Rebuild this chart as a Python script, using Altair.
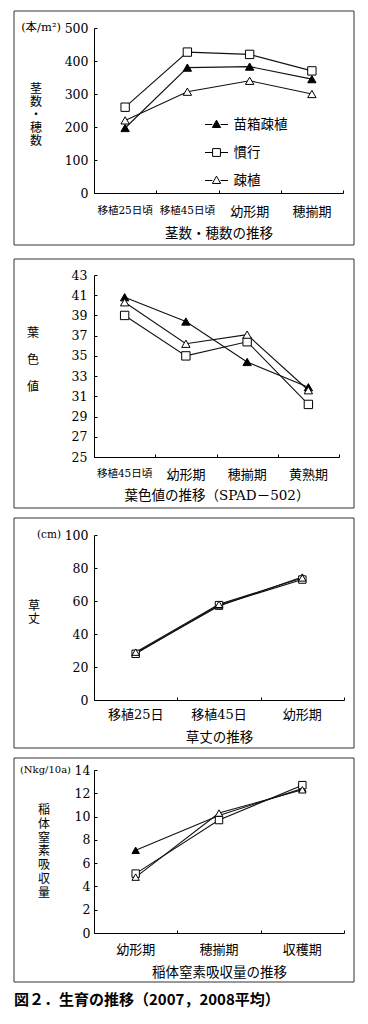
import altair as alt
import pandas as pd

# ---------------- data ----------------
series = ["苗箱疎植", "慣行", "疎植"]
shapes = ["triangle-up", "square", "triangle-up"]
fills = ["black", "white", "white"]
strokes = ["black", "black", "black"]
legend_paths = [
    "M-1,0L-0.36,0M0.36,0L1,0M0,-0.38L0.36,0.26L-0.36,0.26Z",
    "M-1,0L-0.34,0M0.34,0L1,0M-0.34,-0.34L0.34,-0.34L0.34,0.34L-0.34,0.34Z",
    "M-1,0L-0.36,0M0.36,0L1,0M0,-0.38L0.36,0.26L-0.36,0.26Z",
]

# Panel 1: 茎数・穂数
p1_categories = ["移植25日頃", "移植45日頃", "幼形期", "穂揃期"]
p1_naebako = [197, 380, 383, 345]
p1_kanko = [260, 427, 420, 370]
p1_soshoku = [220, 307, 340, 300]
p1_yticks = [0, 100, 200, 300, 400, 500]

# Panel 2: 葉色値
p2_categories = ["移植45日頃", "幼形期", "穂揃期", "黄熟期"]
p2_naebako = [40.8, 38.4, 34.4, 31.9]
p2_kanko = [39.0, 35.0, 36.4, 30.2]
p2_soshoku = [40.3, 36.2, 37.1, 31.6]
p2_yticks = [25, 27, 29, 31, 33, 35, 37, 39, 41, 43]

# Panel 3: 草丈
p3_categories = ["移植25日", "移植45日", "幼形期"]
p3_naebako = [28.5, 57.0, 74.5]
p3_kanko = [28.0, 57.5, 73.0]
p3_soshoku = [29.0, 58.0, 74.0]
p3_yticks = [0, 20, 40, 60, 80, 100]

# Panel 4: 稲体窒素吸収量
p4_categories = ["幼形期", "穂揃期", "収穫期"]
p4_naebako = [7.1, 10.1, 12.4]
p4_kanko = [5.1, 9.7, 12.7]
p4_soshoku = [4.8, 10.3, 12.3]
p4_yticks = [0, 2, 4, 6, 8, 10, 12, 14]

FONT_NUM = "DejaVu Serif, Noto Sans CJK JP"
FONT_JP = "Noto Sans CJK JP"

one = pd.DataFrame({"k": [0]})


def long_df(cats, a, b, c):
    rows = []
    for s, vals in zip(series, [a, b, c]):
        for i, (cat, v) in enumerate(zip(cats, vals)):
            rows.append({"cat": cat, "series": s, "value": v, "idx": i})
    return pd.DataFrame(rows)


def text_layer(text, x, y, size, font, align="left", baseline="middle",
               weight="normal", line_height=None):
    kw = dict(text=text, align=align, baseline=baseline, fontSize=size,
              font=font, fontWeight=weight, color="black")
    if line_height:
        kw["lineBreak"] = "\n"
        kw["lineHeight"] = line_height
    return alt.Chart(one).mark_text(**kw).encode(x=alt.value(x), y=alt.value(y))


FX1, FX2 = -80, 260


def panel(cats, a, b, c, W, H, ydomain, yticks, fy1, fy2, cell_bottom,
          ylab_pad, xlab_pad, xtitle, xtitle_y, ytitle, ytitle_x, ytitle_y,
          ytitle_lh, unit=None, unit_x=0, unit_size=11, msize=70,
          legend=False, caption=None):
    df = long_df(cats, a, b, c)
    xscale = alt.Scale(type="band", domain=cats, paddingInner=0, paddingOuter=0)
    yscale = alt.Scale(domain=ydomain, nice=False, zero=False)

    cell = alt.Chart(one).mark_rect(fill="white", fillOpacity=0, strokeWidth=0).encode(
        x=alt.value(FX1), x2=alt.value(FX2), y=alt.value(fy1), y2=alt.value(cell_bottom))
    box = alt.Chart(one).mark_rect(fill="white", fillOpacity=0, stroke="#333333",
                                   strokeWidth=1).encode(
        x=alt.value(FX1), x2=alt.value(FX2), y=alt.value(fy1), y2=alt.value(fy2))

    xaxis = alt.Axis(
        orient="bottom", ticks=False, tickSize=0, labelPadding=xlab_pad, labelAngle=0,
        labelFont=FONT_NUM,
        labelFontSize={"condition": {"test": "length(datum.label) > 5", "value": 10.5}, "value": 13},
        labelColor="black", domainColor="black", domainWidth=1, labelFlush=False,
        labelOverlap=False,
        title=xtitle, titleFont=FONT_NUM, titleFontSize=13.5, titleFontWeight="normal",
        titleColor="black", titleY=xtitle_y, titleBaseline="middle", zindex=1)
    yaxis = alt.Axis(
        orient="left", values=yticks, ticks=False, tickSize=0, labelPadding=ylab_pad,
        labelFont="DejaVu Serif", labelFontSize=12.5, labelColor="black", domainColor="black",
        domainWidth=1, grid=False, title=None, labelFlush=False, labelOverlap=False,
        zindex=1)

    lines = alt.Chart(df).mark_line(color="#111111", strokeWidth=1.1).encode(
        x=alt.X("cat:N", sort=cats, scale=xscale, axis=xaxis),
        y=alt.Y("value:Q", scale=yscale, axis=yaxis),
        detail="series:N",
        order=alt.Order("idx:Q"))

    pts = alt.Chart(df).mark_point(filled=True, stroke="black", strokeWidth=1,
                                   opacity=1, size=msize).encode(
        x=alt.X("cat:N", sort=cats, scale=xscale, axis=None),
        y=alt.Y("value:Q", scale=yscale, axis=None),
        shape=alt.Shape("series:N", scale=alt.Scale(domain=series, range=shapes), legend=None),
        fill=alt.Fill("series:N", scale=alt.Scale(domain=series, range=fills), legend=None))

    tick_layer = alt.Chart(df).mark_point(opacity=0).encode(
        x=alt.X("cat:N", sort=cats, scale=xscale,
                axis=alt.Axis(orient="top", offset=-H, labels=False, domain=False,
                              ticks=True, tickSize=3, tickBand="extent",
                              tickColor="black", grid=False, title=None, zindex=1)),
        y=alt.Y("value:Q", scale=yscale,
                axis=alt.Axis(orient="right", offset=-W, values=yticks, labels=False,
                              domain=False, ticks=True, tickSize=3, tickColor="black",
                              grid=False, title=None, zindex=1)))

    layers = [cell, box, lines, pts, tick_layer]

    if legend:
        leg_kw = dict(title=None, orient="none", legendX=110.5, legendY=84.5,
                      symbolSize=529, symbolStrokeWidth=1, symbolStrokeColor="black",
                      labelFont=FONT_JP, labelFontSize=13.5, labelColor="black",
                      labelOffset=5, rowPadding=9, padding=0, symbolOpacity=1)
        leg = alt.Chart(df).transform_filter("false").mark_point(
            filled=True, strokeWidth=1, opacity=1).encode(
            shape=alt.Shape("series:N", scale=alt.Scale(domain=series, range=legend_paths),
                            legend=alt.Legend(**leg_kw)),
            fill=alt.Fill("series:N", scale=alt.Scale(domain=series, range=fills),
                          legend=alt.Legend(**leg_kw)),
            stroke=alt.Stroke("series:N", scale=alt.Scale(domain=series, range=strokes),
                              legend=alt.Legend(**leg_kw)))
        layers.append(leg)

    layers.append(text_layer(ytitle, ytitle_x, ytitle_y, 12, FONT_JP,
                             align="center", baseline="middle", line_height=ytitle_lh))
    if unit:
        layers.append(text_layer(unit, unit_x, 0, unit_size, FONT_NUM, align="right"))
    if caption:
        layers.append(text_layer(caption, FX1, 230, 15, FONT_JP, align="left",
                                 weight="bold"))

    return alt.layer(*layers).resolve_scale(
        x="independent", y="independent", shape="independent", fill="independent",
        stroke="independent"
    ).properties(width=W, height=H)


p1 = panel(p1_categories, p1_naebako, p1_kanko, p1_soshoku, 249, 165, [0, 500], p1_yticks,
           fy1=-17, fy2=217, cell_bottom=230, ylab_pad=6, xlab_pad=12,
           xtitle="茎数・穂数の推移", xtitle_y=40,
           ytitle="茎\n数\n・\n穂\n数", ytitle_x=-58, ytitle_y=61, ytitle_lh=13,
           unit="(本/m²)", unit_x=-33, unit_size=11.5, msize=70, legend=True)

p2 = panel(p2_categories, p2_naebako, p2_kanko, p2_soshoku, 245, 182, [25, 43], p2_yticks,
           fy1=-16, fy2=233, cell_bottom=242, ylab_pad=7, xlab_pad=11,
           xtitle="葉色値の推移（SPAD－502）", xtitle_y=38,
           ytitle="葉\n色\n値", ytitle_x=-61, ytitle_y=58, ytitle_lh=27, msize=70)

p3 = panel(p3_categories, p3_naebako, p3_kanko, p3_soshoku, 250, 165, [0, 100], p3_yticks,
           fy1=-17, fy2=213, cell_bottom=222, ylab_pad=6, xlab_pad=8,
           xtitle="草丈の推移", xtitle_y=37,
           ytitle="草\n丈", ytitle_x=-60, ytitle_y=71, ytitle_lh=13,
           unit="(cm)", unit_x=-33, unit_size=10.5, msize=55)

p4 = panel(p4_categories, p4_naebako, p4_kanko, p4_soshoku, 250, 163, [0, 14], p4_yticks,
           fy1=-12, fy2=212, cell_bottom=244, ylab_pad=4, xlab_pad=10,
           xtitle="稲体窒素吸収量の推移", xtitle_y=39,
           ytitle="稲\n体\n窒\n素\n吸\n収\n量", ytitle_x=-50, ytitle_y=40, ytitle_lh=13.8,
           unit="(Nkg/10a)", unit_x=-23, unit_size=10, msize=55,
           caption="図２．生育の推移（2007，2008平均）")

chart = alt.vconcat(p1, p2, p3, p4, spacing=0).properties(
    padding={"left": 5, "top": 2, "right": 0, "bottom": 0}
).configure_view(strokeWidth=0)

chart.save("out.html", embed_options={"renderer": "svg", "actions": False})
